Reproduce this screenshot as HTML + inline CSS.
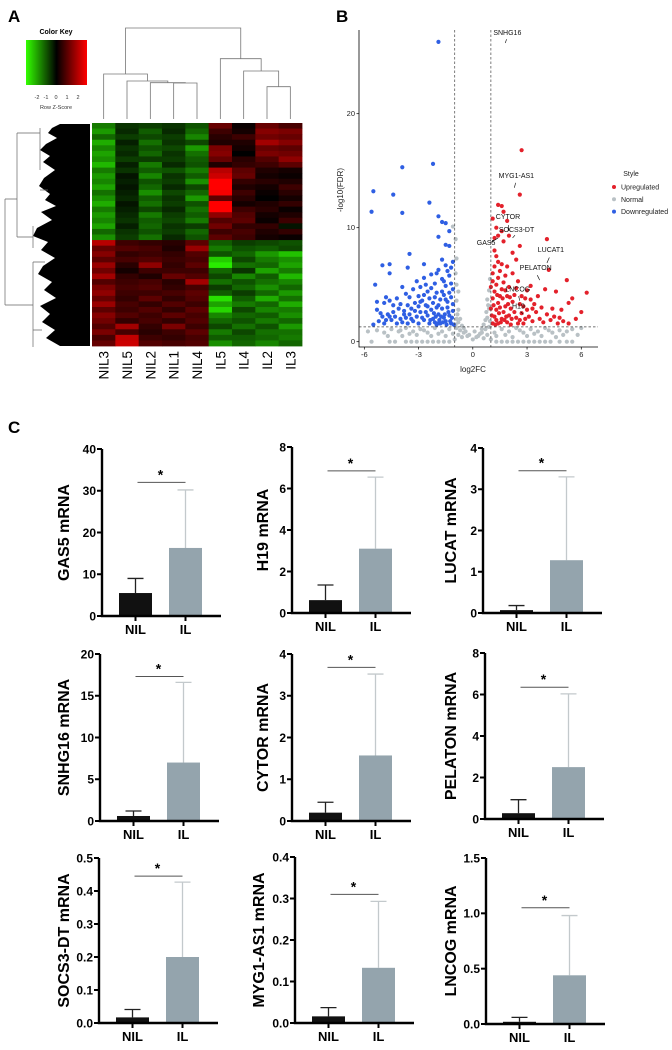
<!DOCTYPE html>
<html><head><meta charset="utf-8">
<style>
html,body{margin:0;padding:0;background:#fff;}
svg{display:block;font-family:"Liberation Sans",Arial,sans-serif;}
</style></head>
<body>
<svg id="fig" width="672" height="1050" viewBox="0 0 672 1050" xmlns="http://www.w3.org/2000/svg">
<text x="8" y="22" font-size="17" font-weight="bold">A</text>
<text x="336" y="22" font-size="17" font-weight="bold">B</text>
<text x="8" y="433" font-size="17" font-weight="bold">C</text>
<defs><linearGradient id="kg" x1="0" x2="1" y1="0" y2="0"><stop offset="0" stop-color="#33ff00"/><stop offset="0.5" stop-color="#000"/><stop offset="1" stop-color="#ff0000"/></linearGradient></defs>
<g>
<text x="56" y="34" font-size="7" font-weight="bold" text-anchor="middle">Color Key</text>
<rect x="26" y="40" width="61" height="45" fill="url(#kg)"/>
<g font-size="5.5" text-anchor="middle" fill="#333">
<text x="37" y="99">-2</text><text x="46" y="99">-1</text><text x="56" y="99">0</text><text x="67" y="99">1</text><text x="78" y="99">2</text>
</g>
<text x="56" y="109" font-size="5.5" text-anchor="middle" fill="#333">Row Z-Score</text>
</g>
<g id="heat"></g>
<g id="rowdend">
<path d="M90,124 L60,124 L52,128 L48,133 L57,138 L46,144 L40,150 L50,156 L43,162 L55,170 L44,178 L39,186 L50,194 L45,200 L56,206 L41,212 L52,220 L37,228 L33,236 L48,242 L41,250 L55,258 L43,266 L38,274 L52,282 L44,290 L56,298 L40,306 L50,314 L42,322 L55,330 L46,338 L60,346 L90,346 Z" fill="#000"/>
<g stroke="#666" stroke-width="0.7" fill="none">
<path d="M5,199 V305 M5,199 H17 M5,305 H33 M17,133 V237 M17,133 H40 M17,237 H33 M33,226 V248 M33,305 H33 M33,262 V347 M33,262 H45 M33,330 H42 M40,128 V170 M40,190 H48"/>
</g>
</g>
<g id="coldend"></g>
<g id="volcano"></g>
<g id="bars"></g>
</svg>
<script>
// ---------- Heatmap data ----------
const heatCols = ["NIL3","NIL5","NIL2","NIL1","NIL4","IL5","IL4","IL2","IL3"];
const heatRows = [
[-1.2,-0.5,-0.6,-0.5,-0.8,1.0,0.1,1.0,0.7],
[-1.5,-0.4,-0.9,-0.4,-1.0,0.6,0.2,1.3,1.2],
[-1.0,-0.6,-0.7,-0.6,-1.3,0.4,0.6,1.1,1.0],
[-1.7,-0.3,-1.1,-0.5,-0.7,0.3,0.3,1.6,1.3],
[-1.3,-0.5,-0.8,-0.7,-1.5,1.2,0.2,1.0,0.9],
[-1.6,-0.4,-1.0,-0.5,-1.1,1.3,0.0,1.2,1.1],
[-1.4,-0.6,-0.6,-0.6,-0.9,1.0,0.4,0.8,1.4],
[-1.8,-0.3,-1.2,-0.4,-0.8,0.3,0.5,0.6,0.9],
[-1.2,-0.5,-0.9,-0.8,-1.2,1.8,0.9,0.3,0.2],
[-1.5,-0.2,-1.3,-0.5,-0.9,2.0,1.0,0.2,0.1],
[-1.3,-0.3,-0.8,-0.6,-1.4,2.5,0.5,0.4,0.3],
[-1.6,-0.2,-1.0,-0.4,-0.7,2.6,0.3,0.2,0.6],
[-1.1,-0.3,-1.4,-0.7,-1.0,2.4,0.6,0.1,0.4],
[-1.4,-0.4,-0.9,-0.5,-1.5,0.9,0.4,0.0,0.2],
[-1.7,-0.2,-1.1,-0.6,-0.8,2.6,0.2,0.3,0.5],
[-1.2,-0.3,-0.7,-0.4,-1.1,2.5,0.6,0.4,0.1],
[-1.5,-0.4,-1.2,-0.6,-0.9,1.4,0.8,0.2,0.3],
[-1.3,-0.5,-0.9,-0.7,-1.2,0.8,0.9,0.1,0.6],
[-1.6,-0.3,-1.0,-0.5,-0.6,1.1,0.5,0.5,-0.2],
[-1.0,-0.5,-0.8,-0.6,-1.0,0.6,0.7,0.3,0.5],
[-1.4,-0.6,-1.1,-0.4,-0.8,0.9,0.6,0.2,0.1],
[1.8,0.6,0.5,0.4,0.9,-0.9,-0.6,-0.7,-0.8],
[1.0,0.8,0.7,0.3,1.5,-1.2,-0.8,-0.9,-0.7],
[1.3,0.5,0.6,0.5,0.8,-0.8,-1.0,-1.5,-1.9],
[0.9,0.7,0.8,0.6,0.7,-2.0,-0.7,-1.2,-1.4],
[1.5,0.4,1.4,0.5,0.9,-2.3,-1.1,-1.0,-1.6],
[1.1,0.2,0.6,0.6,0.6,-1.0,-0.5,-1.6,-1.2],
[1.6,0.5,0.3,1.0,0.8,-0.7,-1.3,-0.9,-1.8],
[0.8,0.6,0.7,0.4,1.6,-1.1,-0.8,-1.1,-1.3],
[1.2,0.7,0.8,0.5,0.7,-0.6,-1.0,-1.4,-1.0],
[1.4,0.6,0.6,0.7,0.9,-0.9,-0.6,-1.0,-1.5],
[1.0,0.5,0.9,0.5,0.8,-2.2,-0.9,-1.7,-1.1],
[1.5,0.7,0.5,0.8,0.6,-1.6,-1.2,-1.0,-1.7],
[0.9,0.6,0.8,0.5,0.9,-2.1,-0.7,-1.3,-1.2],
[1.3,0.8,0.6,0.9,0.7,-1.3,-1.0,-0.9,-1.4],
[1.1,0.5,0.7,0.5,0.8,-1.0,-0.8,-1.2,-1.0],
[0.8,1.6,0.5,1.2,0.6,-0.7,-1.1,-0.8,-1.5],
[1.2,0.7,0.4,0.6,0.9,-1.2,-0.7,-1.1,-1.1],
[0.7,1.9,0.6,0.5,0.7,-0.9,-0.9,-1.0,-1.2],
[1.0,2.0,0.8,0.7,0.8,-1.4,-1.0,-1.3,-1.0]
];
// column dendrogram merges: [childA, childB, height] ; leaves 0..8, internal nodes 9..
const dendMerges = [[3,4,83],[2,9,82.7],[1,10,81],[0,11,74],[7,8,86.7],[6,13,71],[5,14,58.7],[12,15,28]];

// ---------- Volcano data ----------
const volUp = [[2.7,16.8],[2.6,12.9],[1.4,12],[1.6,11.9],[1.7,11.4],[1.1,10.8],[1.9,10.6],[1.3,10],[1.4,9.3],[1.2,9.1],[1.6,9.7],[2.0,9.3],[4.1,9.0],[2.6,8.4],[2.4,7.2],[4.2,6.3],[5.2,5.4],[4.6,4.4],[6.3,4.3],[5.5,3.8],[5.3,3.4],[6.0,2.6],[4.9,2.8],[3.2,3.7],
[1.1,1.6],[1.2,2.2],[1.3,2.8],[1.4,3.4],[1.5,4.0],[1.6,4.6],[1.7,5.2],[1.8,5.8],[1.1,3.8],[1.2,4.4],[1.3,5.0],[1.4,5.6],[1.5,6.2],[1.6,6.8],[1.3,7.5],[1.1,6.0],[1.2,8.0],[1.9,1.7],[2.0,2.3],[2.1,2.9],[2.2,3.5],[2.3,4.1],[2.4,4.7],[2.5,5.3],[2.6,1.9],[2.7,2.5],[2.8,3.1],[2.9,3.8],[3.0,4.5],[3.1,2.2],[3.3,1.8],[3.5,2.6],[3.4,3.3],[3.7,2.0],[3.9,1.7],[4.1,2.4],[4.3,1.9],[4.5,2.2],[4.7,1.6],[5.0,1.8],[5.3,1.6],[4.8,2.1],[3.6,4.0],[3.2,4.9],[2.2,6.0],[2.0,4.8],[1.8,3.1],[1.6,2.0],[1.4,1.6],[1.9,4.0],[2.1,1.5],[2.4,2.1],[2.6,3.3],[2.8,1.6],[3.0,2.8],[1.0,4.8],[1.0,2.9],[1.7,2.6],[1.5,3.0],[1.3,1.9],[2.3,2.6],[2.5,1.6],[2.9,2.0],[3.3,2.9],[1.2,6.6],[1.4,7.0],[1.7,8.8],[2.2,7.8],[1.9,6.6],[3.8,3.0],[4.4,2.9],[4.0,4.6],[5.7,2.0],[1.1,5.3],[1.8,4.5],[2.7,4.0],[1.05,2.3],[1.15,3.2],[1.25,1.5],[1.35,4.1],[1.45,2.5],[1.55,1.7],[1.65,3.8],[1.75,1.9],[1.85,2.2],[1.95,3.3],[2.05,3.9],[2.15,2.0]];
const volDown = [[-1.9,26.3],[-5.6,11.4],[-5.5,13.2],[-4.4,12.9],[-3.9,15.3],[-3.9,11.3],[-2.2,15.6],[-2.4,12.2],[-1.9,11],[-1.7,10.5],[-1.5,10.4],[-1.3,9.7],[-1.9,9.2],[-1.3,8.4],[-1.5,8.5],[-3.5,7.7],[-2.7,6.8],[-3.6,6.5],[-5.0,6.7],[-4.6,6.8],[-4.6,6],[-5.4,5.0],[-1.7,7.2],[-2,6],[-1.5,6.7],[-1.2,6.5],
[-4.8,3.9],[-4.6,3.6],[-4.2,3.8],[-4.0,3.3],[-3.7,4.2],[-3.5,3.9],[-3.3,4.6],[-3.1,5.3],[-2.9,4.8],[-2.7,5.6],[-2.5,4.4],[-2.3,5.9],[-2.1,5.1],[-1.9,6.3],[-1.7,5.5],[-1.5,4.9],[-1.3,5.8],[-1.1,4.6],[-1.2,3.9],[-1.4,3.5],[-1.6,4.1],[-1.8,3.7],[-2.0,4.3],[-2.2,3.4],[-2.4,3.8],[-2.6,3.2],[-2.8,3.6],[-3.0,3.1],[-3.2,3.4],[-3.4,2.9],[-3.6,3.2],[-3.8,2.7],[-4.1,2.9],[-4.4,2.6],[-4.7,2.4],[-5.0,2.2],[-5.3,2.8],[-5.3,3.5],[-5.2,1.8],[-4.9,1.6],[-4.5,1.9],[-4.3,2.2],[-3.9,1.7],[-3.7,2.1],[-3.5,2.4],[-3.3,1.8],[-3.1,2.2],[-2.9,2.6],[-2.7,1.9],[-2.5,2.3],[-2.3,2.8],[-2.1,1.7],[-1.9,2.4],[-1.7,2.9],[-1.5,1.8],[-1.3,2.3],[-1.1,2.7],[-1.2,1.6],[-1.4,3.0],[-1.6,2.1],[-1.8,1.6],[-2.0,3.0],[-2.2,2.0],[-2.4,1.6],[-2.6,2.6],[-2.8,2.1],[-3.0,1.6],[-3.2,2.7],[-3.4,2.0],[-3.6,1.6],[-3.8,2.4],[-4.0,2.0],[-4.2,1.6],[-4.6,2.2],[-4.8,1.9],[-5.1,2.5],[-1.1,3.3],[-1.3,4.3],[-1.5,3.7],[-1.7,4.4],[-1.9,3.2],[-2.1,3.9],[-2.3,4.7],[-2.5,3.1],[-2.7,4.1],[-2.9,3.5],[-1.2,5.1],[-1.4,6.2],[-1.6,5.3],[-1.1,7.0],[-2.6,5.0],[-3.0,4.0],[-4.4,3.2],[-3.9,4.8],[-2.0,1.5],[-1.05,1.5],[-5.5,1.5],[-4.9,3.4],[-1.15,2.1],[-1.25,1.8],[-1.35,2.6],[-1.45,1.5],[-1.55,2.4],[-1.65,1.7],[-1.75,2.2],[-1.85,1.9],[-1.95,1.6],[-2.05,2.2],[-2.15,2.5],[-2.35,1.9]];
const volNormal = [[-0.9,1.2],[-0.7,1.0],[-0.5,0.8],[-0.3,0.5],[0,0.2],[0.3,0.5],[0.5,0.8],[0.7,1.1],[0.9,1.3],[-0.9,2.0],[-0.8,2.8],[-0.9,3.6],[-0.8,4.4],[-0.9,5.0],[-0.95,6.0],[-0.9,7.3],[-0.95,9.0],[-1.1,10.1],[-0.8,1.7],[-0.6,1.4],[0.6,1.5],[0.8,2.1],[0.9,2.9],[0.8,3.7],[0.9,4.5],[0.95,5.5],[0.7,1.9],[0.85,3.2],[-0.85,2.4],[-0.7,2.0],[0.75,2.6],[-0.5,1.2],[0.5,1.1],[-0.2,0.6],[0.2,0.4],
[-5.3,1.0],[-4.9,0.8],[-4.5,1.1],[-4.1,0.9],[-3.7,1.2],[-3.3,0.9],[-2.9,1.1],[-2.5,0.8],[-2.1,1.2],[-1.7,0.9],[-1.3,1.1],[-1.1,0.7],[-1.5,0.5],[-2.3,0.5],[-3.1,0.6],[-3.9,0.5],[-4.7,0.5],[1.2,0.8],[1.6,1.1],[2.0,0.9],[2.4,1.2],[2.8,0.8],[3.2,1.1],[3.6,0.9],[4.0,1.2],[4.4,0.8],[4.8,1.0],[5.2,0.9],[5.5,1.1],[1.3,0.5],[2.2,0.4],[3.0,0.5],[3.8,0.5],[4.6,0.4],
[-5.6,0],[-4.6,0],[-4.3,0],[-3.7,0],[-3.4,0],[-3.1,0],[-2.8,0],[-2.5,0],[-2.2,0],[-1.9,0],[-1.6,0],[-1.3,0],[1.3,0],[1.6,0],[1.9,0],[2.2,0],[2.5,0],[2.8,0],[3.1,0],[3.4,0],[3.7,0],[4.0,0],[4.3,0],[4.8,0],[5.2,0],[5.5,0],[-1.0,0.2],[1.0,0.2],[-5.8,0.9],[6.0,1.2],[5.8,0.6],[-0.4,0.9],[0.4,0.7],
[-4.0,1.0],[-3.5,0.7],[-2.7,1.0],[-1.9,0.7],[-0.6,0.4],[0.1,0.9],[0.6,0.3],[1.8,0.6],[2.6,1.0],[3.4,0.7],[4.2,1.0],[5.0,0.6],[-0.8,0.6],[0.8,0.6],[-0.95,1.5],[0.95,1.8]];
const volLabels = ["SNHG16","MYG1-AS1","CYTOR","GAS5","SOCS3-DT","LUCAT1","PELATON","LNCOG","H19"];
const volLabelX = [1.8,2.3,2.0,1.4,2.2,4.1,3.7,2.6,2.8];
const volLabelY = [26.2,13.5,9.7,9.1,9.1,6.9,5.4,3.6,2.4];
const volXTicks = [-6,-3,0,3,6];
const volYTicks = [0,10,20];
const volCut = [-1,1,1.3];

// ---------- Bar chart data ----------
const genes = ["GAS5","H19","LUCAT","SNHG16","CYTOR","PELATON","SOCS3-DT","MYG1-AS1","LNCOG"];
const groups = ["NIL","IL"];
const nilMean = [5.5,0.62,0.07,0.6,0.2,0.28,0.017,0.016,0.02];
const nilErr  = [9.0,1.35,0.18,1.2,0.45,0.93,0.041,0.037,0.06];
const ilMean  = [16.3,3.1,1.28,7.0,1.57,2.5,0.2,0.133,0.44];
const ilErr   = [30.2,6.55,3.3,16.6,3.52,6.03,0.427,0.293,0.98];
const sigLevel = [32,6.85,3.45,17.3,3.68,6.35,0.445,0.31,1.05];
const yMax = [40,8,4,20,4,8,0.5,0.4,1.5];
const tickLabels = [
 ["0","10","20","30","40"],["0","2","4","6","8"],["0","1","2","3","4"],
 ["0","5","10","15","20"],["0","1","2","3","4"],["0","2","4","6","8"],
 ["0.0","0.1","0.2","0.3","0.4","0.5"],["0.0","0.1","0.2","0.3","0.4"],["0.0","0.5","1.0","1.5"]
];

const NS="http://www.w3.org/2000/svg";
function mk(tag, attrs, parent){const e=document.createElementNS(NS,tag);for(const k in attrs)e.setAttribute(k,attrs[k]);parent.appendChild(e);return e;}

// ---- Heatmap ----
(function(){
 const g=document.getElementById('heat');
 const hx0=92,hx1=302,hy0=123,hy1=346;
 const cw=(hx1-hx0)/heatCols.length, rh=(hy1-hy0)/heatRows.length;
 function col(z){const t=Math.min(Math.abs(z),2.5)/2.5; if(z>=0) return `rgb(${Math.round(255*t)},0,0)`; return `rgb(${Math.round(45*t)},${Math.round(255*t)},0)`;}
 heatRows.forEach((row,i)=>row.forEach((z,j)=>{
  const r=mk('rect',{x:hx0+j*cw,y:hy0+i*rh,width:cw+0.4,height:rh+0.4,fill:col(z)},g);
  
  
 }));
 heatCols.forEach((c,j)=>{
  const cx=hx0+(j+0.5)*cw+5;
  const t=mk('text',{x:0,y:0,transform:`translate(${cx},351) rotate(-90)`,'font-size':13.5,'text-anchor':'end'},g);
  t.textContent=c;
  
  
 });
 // column dendrogram
 const dg=document.getElementById('coldend');
 const nodeX=heatCols.map((c,j)=>hx0+(j+0.5)*cw), nodeY=heatCols.map(()=>119);
 dendMerges.forEach(m=>{
  const [a,b,h]=m;
  const p=mk('path',{d:`M${nodeX[a]},${nodeY[a]} V${h} H${nodeX[b]} V${nodeY[b]}`,fill:'none',stroke:'#777','stroke-width':0.8},dg);
  
  
  nodeX.push((nodeX[a]+nodeX[b])/2); nodeY.push(h);
 });
})();

// ---- Volcano ----
(function(){
 const g=document.getElementById('volcano');
 const X=v=>472.8+18.08*v, Y=v=>341.7-11.4*v;
 const ax0=359, ay1=347, ax1=598, ay0=30;
 function dots(arr,color,name){arr.forEach(p=>{const c=mk('circle',{cx:X(p[0]),cy:Y(p[1]),r:2.1,fill:color},g);
  
  });}
 dots(volNormal,'#b9c1c5','point-normal');
 dots(volDown,'#2f5fe3','point-downregulated');
 dots(volUp,'#e3212b','point-upregulated');
 const dash={stroke:'#444','stroke-width':0.7,'stroke-dasharray':'2.5,2',fill:'none'};
 let l=mk('line',Object.assign({x1:X(volCut[0]),x2:X(volCut[0]),y1:ay0,y2:ay1},dash),g);
  
 l=mk('line',Object.assign({x1:X(volCut[1]),x2:X(volCut[1]),y1:ay0,y2:ay1},dash),g);
  
 l=mk('line',Object.assign({x1:ax0,x2:ax1,y1:Y(volCut[2]),y2:Y(volCut[2])},dash),g);
  
 const ax=mk('path',{d:`M${ax0},${ay0} V${ay1} H${ax1}`,stroke:'#000','stroke-width':0.8,fill:'none'},g);
  
 volXTicks.forEach(v=>{mk('line',{x1:X(v),x2:X(v),y1:ay1,y2:ay1+2.5,stroke:'#000','stroke-width':0.7},g);
  const t=mk('text',{x:X(v),y:ay1+10,'font-size':7.5,'text-anchor':'middle',fill:'#222'},g);t.textContent=v;
   });
 volYTicks.forEach(v=>{mk('line',{x1:ax0-2.5,x2:ax0,y1:Y(v),y2:Y(v),stroke:'#000','stroke-width':0.7},g);
  const t=mk('text',{x:ax0-4,y:Y(v)+2.5,'font-size':7.5,'text-anchor':'end',fill:'#222'},g);t.textContent=v;
   });
 let t=mk('text',{x:473,y:372,'font-size':8,'text-anchor':'middle',fill:'#222'},g);t.textContent='log2FC';
  
 t=mk('text',{x:0,y:0,transform:'translate(343,190) rotate(-90)','font-size':8,'text-anchor':'middle',fill:'#222'},g);t.textContent='-log10(FDR)';
  
 // labels
 const offs=[[2,-7],[2,-9],[-1,-11],[-12,8],[4,-5],[4,-10],[-4,-9],[-2,-8],[-5,-5]];
 volLabels.forEach((n,i)=>{const px=X(volLabelX[i]),py=Y(volLabelY[i]);
  mk('line',{x1:px,y1:py,x2:px+offs[i][0]*0.6,y2:py+offs[i][1]*0.55,stroke:'#000','stroke-width':0.6},g);
  const tt=mk('text',{x:px+offs[i][0],y:py+offs[i][1]-1,'font-size':7,'text-anchor':'middle',fill:'#111'},g);tt.textContent=n;
   });
 // legend
 t=mk('text',{x:631,y:176,'font-size':7,'text-anchor':'middle',fill:'#222'},g);t.textContent='Style';
  
 [['Upregulated','#e3212b'],['Normal','#b9c1c5'],['Downregulated','#2f5fe3']].forEach((e,i)=>{
  const c=mk('circle',{cx:614,cy:187+i*12.3,r:2,fill:e[1]},g);
   
  const tx=mk('text',{x:621,y:189.5+i*12.3,'font-size':7,fill:'#222'},g);tx.textContent=e[0];
   });
})();

// ---- Bar charts ----
(function(){
 const g=document.getElementById('bars');
 const layout=[[102,449,616,-39],[292,447,613,-30],[483,448,613,-33],
               [100,654,821,-37],[292,654,821,-30],[485,653,819,-35],
               [99,858,1023,-36],[295,857,1023,-37],[486,858,1024,-36]];
 genes.forEach((gn,i)=>{
  const [ax,top,zero,toff]=layout[i];
  const cg=mk('g',{},g);
  
  
  const Y=v=>zero-(zero-top)*v/yMax[i];
  const xc=[ax+33.5,ax+83.5];
  const means=[nilMean[i],ilMean[i]], errs=[nilErr[i],ilErr[i]];
  const fills=['#111','#94a4ad'], estroke=['#222','#c3c9cc'];
  [0,1].forEach(k=>{
   const e=mk('path',{d:`M${xc[k]},${Y(means[k])} V${Y(errs[k])} M${xc[k]-8},${Y(errs[k])} H${xc[k]+8}`,stroke:estroke[k],'stroke-width':1.3,fill:'none'},cg);
    
   const r=mk('rect',{x:xc[k]-16.5,y:Y(means[k]),width:33,height:zero-Y(means[k]),fill:fills[k]},cg);
    
   mk('line',{x1:xc[k],x2:xc[k],y1:zero,y2:zero+5,stroke:'#000','stroke-width':2},cg);
   const t=mk('text',{x:xc[k],y:zero+18,'font-size':13,'font-weight':'bold','text-anchor':'middle'},cg);t.textContent=groups[k];
    
  });
  const ax_=mk('path',{d:`M${ax},${top} V${zero} H${ax+119}`,stroke:'#000','stroke-width':2.4,fill:'none'},cg);
   
  const n=tickLabels[i].length;
  tickLabels[i].forEach((lab,k)=>{const v=yMax[i]*k/(n-1);
   mk('line',{x1:ax-5,x2:ax,y1:Y(v),y2:Y(v),stroke:'#000','stroke-width':2},cg);
   const t=mk('text',{x:ax-6,y:Y(v)+4.3,'font-size':12,'font-weight':'bold','text-anchor':'end'},cg);t.textContent=lab;
    });
  const sy=Y(sigLevel[i]);
  const sl=mk('line',{x1:xc[0]+2,x2:xc[1],y1:sy,y2:sy,stroke:'#555','stroke-width':1},cg);
   
  const st=mk('text',{x:(xc[0]+xc[1])/2,y:sy-3,'font-size':14,'font-weight':'bold','text-anchor':'middle'},cg);st.textContent='*';
   
  const tt=mk('text',{x:0,y:0,transform:`translate(${ax+toff+6},${(top+zero)/2}) rotate(-90)`,'font-size':16,'font-weight':'bold','text-anchor':'middle'},cg);
  tt.textContent=gn+' mRNA';
   
 });
})();
</script>
</body></html>
